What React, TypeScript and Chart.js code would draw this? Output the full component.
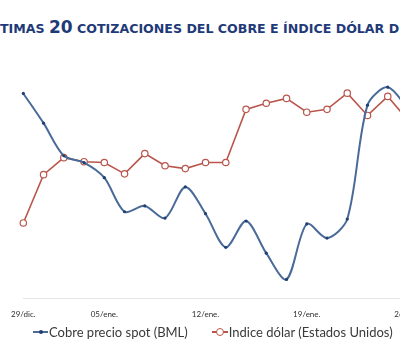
import React, { useEffect, useRef } from "react";
import { Chart, registerables } from "chart.js";

Chart.register(...registerables);

const categories = [
  "29/dic.", "30/dic.", "31/dic.", "02/ene.", "05/ene.",
  "06/ene.", "07/ene.", "08/ene.", "09/ene.", "12/ene.",
  "13/ene.", "14/ene.", "15/ene.", "16/ene.", "19/ene.",
  "20/ene.", "21/ene.", "22/ene.", "23/ene.", "26/ene.",
];
const shownTickIndexes = [0, 4, 9, 14, 19];

// Cobre precio spot BML (US¢/lb)
const copper = [
  287.1, 281.0, 274.3, 272.9, 269.8,
  262.8, 264.0, 261.5, 267.9, 262.4,
  255.5, 260.9, 254.3, 248.9, 260.3,
  257.4, 261.3, 284.7, 288.4, 284.0,
];
// Índice dólar (Estados Unidos)
const dollar = [
  89.86, 91.05, 91.47, 91.37, 91.35,
  91.07, 91.57, 91.27, 91.2, 91.35,
  91.35, 92.66, 92.81, 92.93, 92.59,
  92.66, 93.06, 92.51, 92.98, 92.39,
];
const copperRange = [245, 295];
const dollarRange = [88, 94];

const copperLabel = "Cobre precio spot (BML)";
const dollarLabel = "Indice dólar (Estados Unidos)";

const BLUE = "#4a6b98";
const BLUE_DOT = "#1f3f73";
const RED = "#b9564c";

export default function App() {
  const ref = useRef<HTMLCanvasElement>(null);

  useEffect(() => {
    if (!ref.current) return;
    const chart = new Chart(ref.current, {
      type: "line",
      data: {
        labels: categories,
        datasets: [
          {
            label: copperLabel,
            data: copper,
            yAxisID: "yCu",
            borderColor: BLUE,
            borderWidth: 2,
            tension: 0.3,
            pointRadius: 1.6,
            pointBackgroundColor: BLUE_DOT,
            pointBorderColor: BLUE_DOT,
            pointBorderWidth: 0,
          },
          {
            label: dollarLabel,
            data: dollar,
            yAxisID: "yUsd",
            borderColor: RED,
            borderWidth: 1.6,
            tension: 0,
            pointRadius: 3.2,
            pointBackgroundColor: "#ffffff",
            pointBorderColor: RED,
            pointBorderWidth: 1.2,
          },
        ],
      },
      options: {
        animation: false,
        responsive: false,
        maintainAspectRatio: false,
        layout: { padding: { left: 19, right: 32, top: 55, bottom: 0 } },
        plugins: { legend: { display: false }, tooltip: { enabled: false }, title: { display: false } },
        scales: {
          x: {
            grid: { display: false, drawTicks: false, tickLength: 0 },
            border: { display: true, color: "#e8e4e2", width: 1 },
            ticks: {
              autoSkip: false,
              maxRotation: 0,
              padding: 11,
              color: "#2e2e2e",
              font: { family: "Lato", size: 8 },
              callback: (_v: any, i: number) => (shownTickIndexes.includes(i) ? categories[i] : ""),
            },
          },
          yCu: { display: false, min: copperRange[0], max: copperRange[1] },
          yUsd: { display: false, min: dollarRange[0], max: dollarRange[1] },
        },
      },
    });
    return () => chart.destroy();
  }, []);

  const legendText: React.CSSProperties = {
    fontFamily: "Lato",
    fontSize: 13,
    color: "#3a3a3a",
    whiteSpace: "nowrap",
  };

  return (
    <div
      style={{
        position: "absolute",
        left: 0,
        top: 0,
        width: 400,
        height: 352,
        overflow: "hidden",
        background: "#ffffff",
      }}
    >
      <div
        style={{
          position: "absolute",
          left: 0,
          top: 17,
          whiteSpace: "nowrap",
          fontFamily: "DejaVu Sans",
          fontWeight: "bold",
          fontSize: 12.6,
          color: "#1f3a78",
          lineHeight: "20px",
        }}
      >
        <span style={{ position: "absolute", right: "100%" }}>ÚL</span>
        TIMAS <span style={{ fontSize: 17 }}>20</span> COTIZACIONES DEL COBRE E ÍNDICE DÓLAR DE EE.UU.
      </div>
      <canvas
        ref={ref}
        width={440}
        height={330}
        style={{ position: "absolute", left: 0, top: 0, width: 440, height: 330 }}
      />
      <div
        style={{
          position: "absolute",
          left: 33,
          top: 324,
          display: "flex",
          alignItems: "center",
          ...legendText,
        }}
      >
        <span style={{ position: "relative", display: "inline-block", width: 15, height: 2, background: BLUE, marginRight: 1 }}>
          <span
            style={{
              position: "absolute",
              left: 5.5,
              top: -1,
              width: 4,
              height: 4,
              borderRadius: 2,
              background: BLUE_DOT,
            }}
          />
        </span>
        <span>{copperLabel}</span>
        <span style={{ display: "inline-block", width: 24 }} />
        <span style={{ position: "relative", display: "inline-block", width: 16, height: 2, background: RED, marginRight: 1 }}>
          <span
            style={{
              position: "absolute",
              left: 4,
              top: -3,
              width: 6,
              height: 6,
              borderRadius: 4,
              border: `1.2px solid ${RED}`,
              background: "#ffffff",
            }}
          />
        </span>
        <span>{dollarLabel}</span>
      </div>
    </div>
  );
}
